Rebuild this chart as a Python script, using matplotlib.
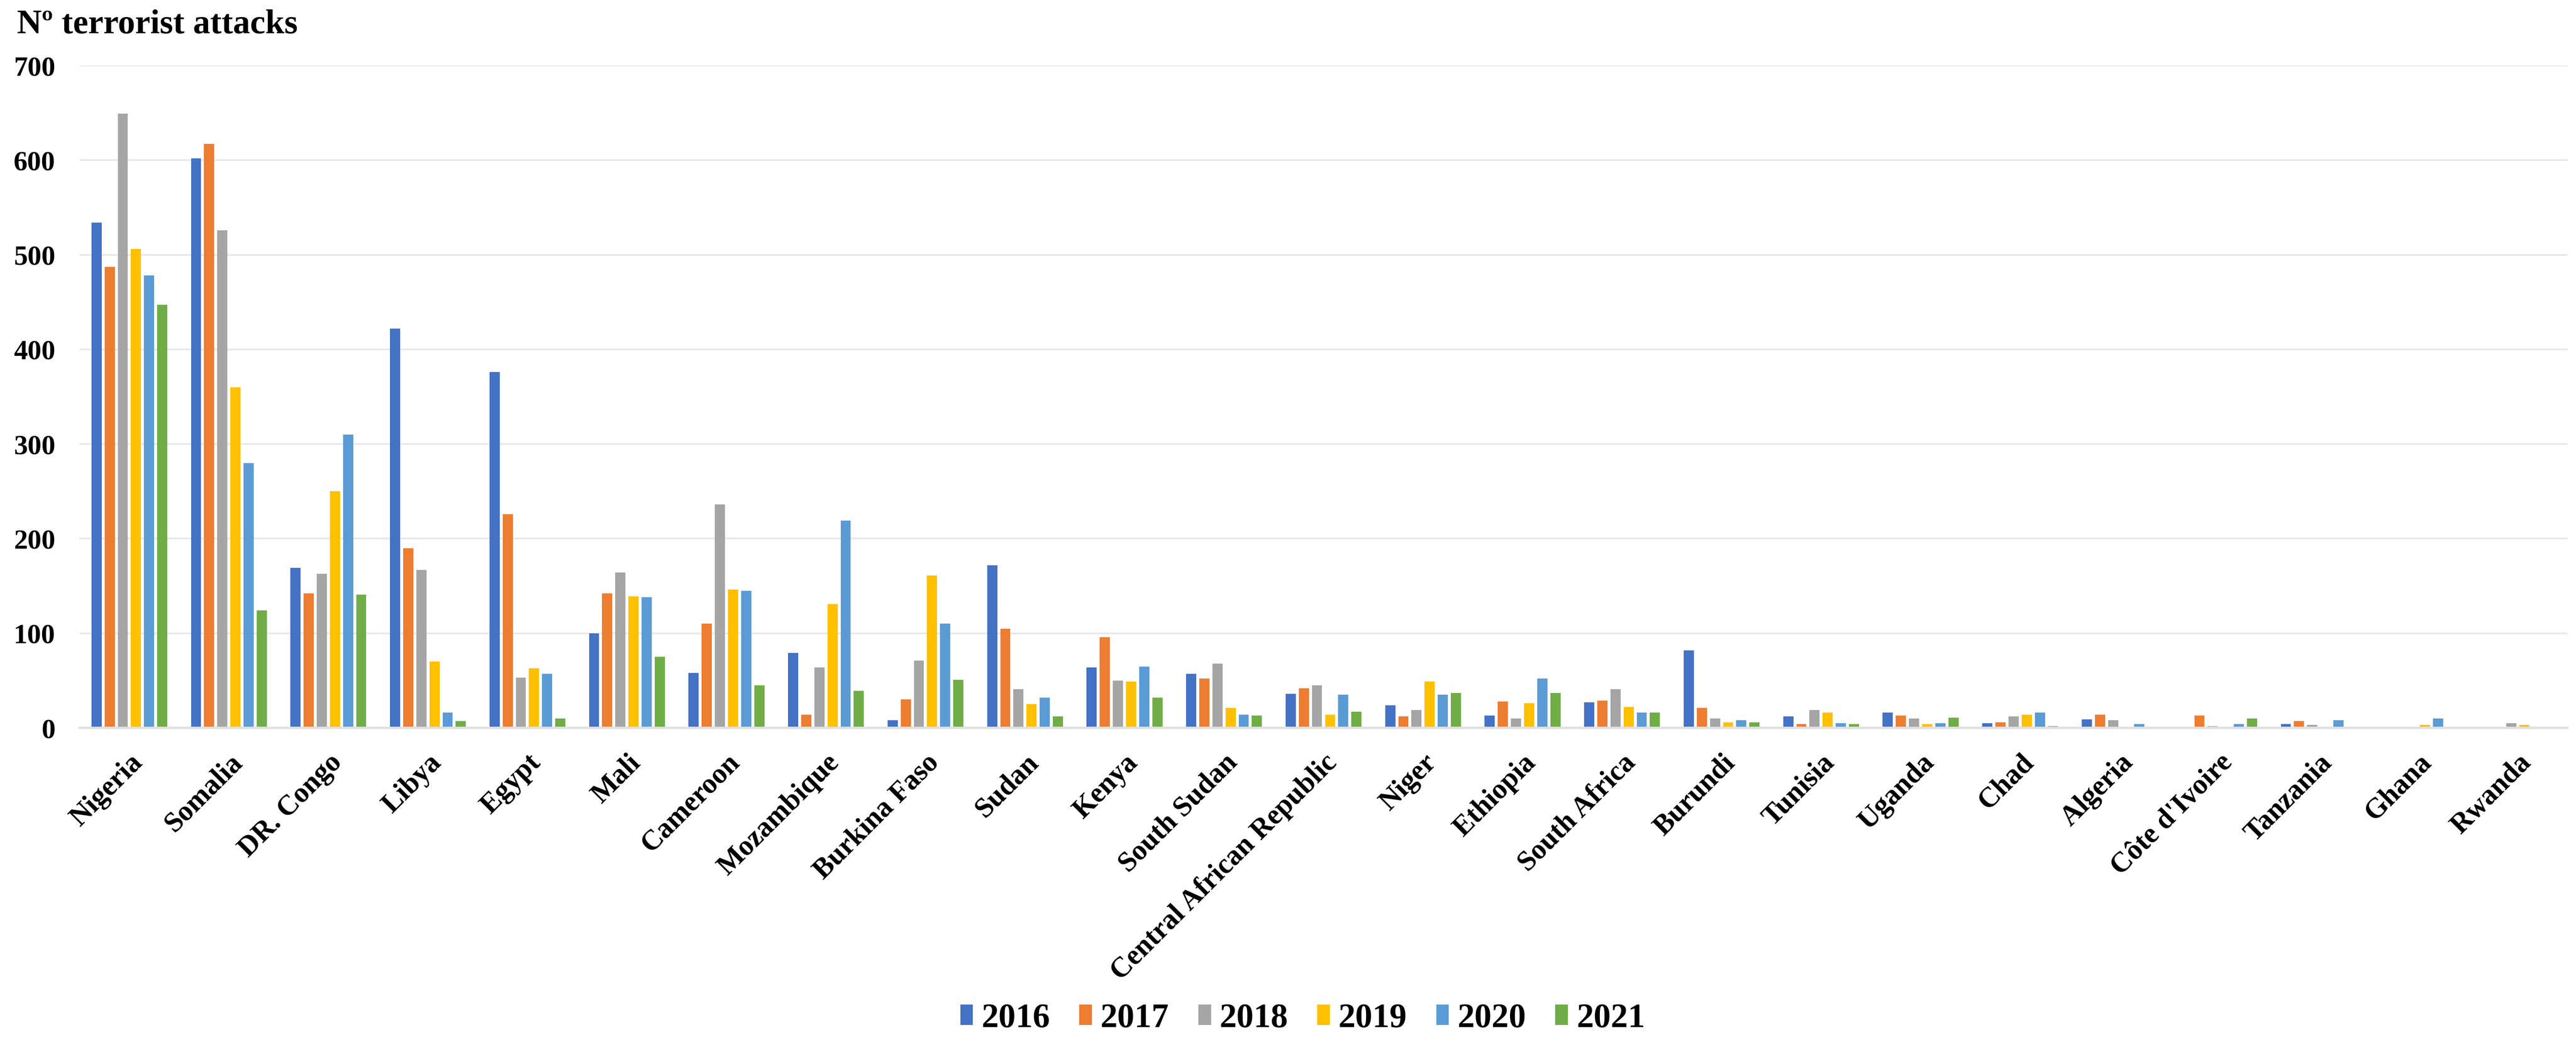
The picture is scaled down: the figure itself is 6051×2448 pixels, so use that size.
import matplotlib
matplotlib.use("Agg")
import matplotlib.pyplot as plt
import matplotlib.transforms as mtransforms
import numpy as np

countries = ["Nigeria", "Somalia", "DR. Congo", "Libya", "Egypt", "Mali", "Cameroon",
             "Mozambique", "Burkina Faso", "Sudan", "Kenya", "South Sudan",
             "Central African Republic", "Niger", "Ethiopia", "South Africa", "Burundi",
             "Tunisia", "Uganda", "Chad", "Algeria", "Côte d'Ivoire", "Tanzania",
             "Ghana", "Rwanda"]
years = ["2016", "2017", "2018", "2019", "2020", "2021"]

v2016 = [534, 602, 169, 422, 376, 100, 58, 79, 8, 172, 64, 57, 36, 24, 13, 27, 82, 12, 16, 5, 9, 0, 4, 0, 0]
v2017 = [487, 617, 142, 190, 226, 142, 110, 14, 30, 105, 96, 52, 42, 12, 28, 29, 21, 4, 13, 6, 14, 13, 7, 0, 1]
v2018 = [649, 526, 163, 167, 53, 164, 236, 64, 71, 41, 50, 68, 45, 19, 10, 41, 10, 19, 10, 12, 8, 2, 3, 1, 5]
v2019 = [506, 360, 250, 70, 63, 139, 146, 131, 161, 25, 49, 21, 14, 49, 26, 22, 6, 16, 4, 14, 0, 0, 0, 3, 3]
v2020 = [478, 280, 310, 16, 57, 138, 145, 219, 110, 32, 65, 14, 35, 35, 52, 16, 8, 5, 5, 16, 4, 4, 8, 10, 0]
v2021 = [447, 124, 141, 7, 10, 75, 45, 39, 51, 12, 32, 13, 17, 37, 37, 16, 6, 4, 11, 2, 0, 10, 0, 0, 0]
series = [v2016, v2017, v2018, v2019, v2020, v2021]
colors = ["#4472C4", "#ED7D31", "#A5A5A5", "#FFC000", "#5B9BD5", "#70AD47"]

yticks = [0, 100, 200, 300, 400, 500, 600, 700]

plt.rcParams["font.family"] = ["Liberation Serif", "DejaVu Serif"]
plt.rcParams["font.weight"] = "bold"

W, H = 6051, 2448
fig = plt.figure(figsize=(W / 100, H / 100), dpi=100)
ax = fig.add_axes([187 / W, 1 - 1710 / H, (6031 - 187) / W, (1710 - 154) / H])

x = np.arange(len(countries))
step = 0.132
bw = 0.102
for i, (vals, c, yr) in enumerate(zip(series, colors, years)):
    ax.bar(x + (i - 2.5) * step, vals, width=bw, color=c, label=yr, zorder=3)

ax.set_xlim(-0.5, len(countries) - 0.5)
ax.set_ylim(0, 700)
ax.set_yticks(yticks)
ax.set_yticklabels([str(t) for t in yticks], fontsize=47, fontweight="bold")
ax.set_xticks(x)
ax.set_xticklabels(countries, fontsize=48, fontweight="bold", rotation=45,
                   ha="right", va="center", rotation_mode="anchor")
ax.tick_params(axis="y", length=0, pad=41)
ax.tick_params(axis="x", length=0, pad=52)
offset = mtransforms.ScaledTranslation(0.22, 0, fig.dpi_scale_trans)
for lbl in ax.get_xticklabels():
    lbl.set_transform(lbl.get_transform() + offset)

ax.grid(axis="y", color="#E8E8E8", linewidth=3, zorder=0)
ax.set_axisbelow(True)
for s in ["top", "right", "left"]:
    ax.spines[s].set_visible(False)
ax.spines["bottom"].set_color("#E0E0E0")
ax.spines["bottom"].set_linewidth(4)
ax.spines["bottom"].set_zorder(4)

fig.text(40 / W, 1 - 78 / H, "Nº terrorist attacks", fontsize=58, fontweight="bold",
         ha="left", va="baseline")

leg = fig.legend(loc="center", bbox_to_anchor=(3060 / W, 1 - 2393 / H), ncol=6,
                 frameon=False, prop={"size": 58, "weight": "bold"},
                 handlelength=0.37, handleheight=0.55, handletextpad=0.25,
                 columnspacing=0.85, borderaxespad=0)

fig.savefig("out.png", dpi=100, facecolor="white")
